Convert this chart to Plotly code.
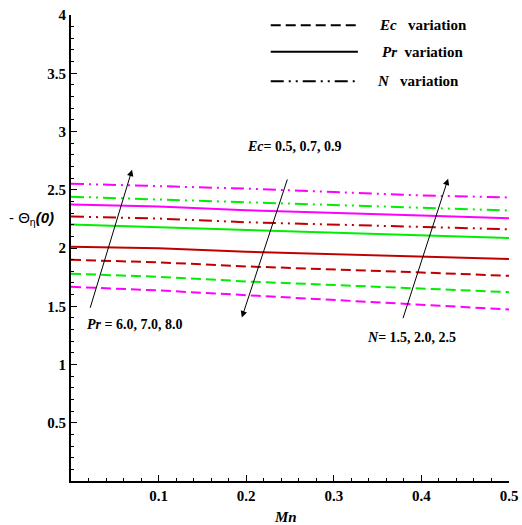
import plotly.graph_objects as go

# Magnetic number Mn and the wall heat-flux -Theta_eta(0) for each parameter sweep
mn = [0.0, 0.1, 0.2, 0.3, 0.4, 0.5]

# Ec variation (Ec = 0.5, 0.7, 0.9)
ec_05 = [1.899, 1.877, 1.842, 1.819, 1.790, 1.761]
ec_07 = [1.779, 1.753, 1.713, 1.681, 1.649, 1.621]
ec_09 = [1.667, 1.636, 1.595, 1.556, 1.512, 1.472]

# Pr variation (Pr = 6.0, 7.0, 8.0)
pr_60 = [2.011, 1.997, 1.968, 1.948, 1.925, 1.905]
pr_70 = [2.201, 2.178, 2.149, 2.126, 2.109, 2.086]
pr_80 = [2.374, 2.356, 2.325, 2.299, 2.279, 2.256]

# N variation (N = 1.5, 2.0, 2.5)
n_15 = [2.270, 2.253, 2.221, 2.201, 2.184, 2.161]
n_20 = [2.440, 2.417, 2.390, 2.368, 2.342, 2.322]
n_25 = [2.552, 2.534, 2.510, 2.480, 2.451, 2.434]

x_ticks = [0.1, 0.2, 0.3, 0.4, 0.5]
y_ticks = [0.5, 1, 1.5, 2, 2.5, 3, 3.5, 4]

RED = "#C00000"
GREEN = "#00EE00"
MAGENTA = "#FF00FF"
DASH = "10px,5px"
DASHDOT = "13px,5px,2px,5px,2px,5px"
SERIF = "Liberation Serif, Times New Roman, serif"

series = [
    ("Ec = 0.5", ec_05, RED, DASH),
    ("Ec = 0.7", ec_07, GREEN, DASH),
    ("Ec = 0.9", ec_09, MAGENTA, DASH),
    ("Pr = 6.0", pr_60, RED, "solid"),
    ("Pr = 7.0", pr_70, GREEN, "solid"),
    ("Pr = 8.0", pr_80, MAGENTA, "solid"),
    ("N = 1.5", n_15, RED, DASHDOT),
    ("N = 2.0", n_20, GREEN, DASHDOT),
    ("N = 2.5", n_25, MAGENTA, DASHDOT),
]

fig = go.Figure()
for name, ys, color, dash in series:
    fig.add_trace(go.Scatter(x=mn, y=ys, mode="lines", name=name,
                             line=dict(color=color, width=2, dash=dash),
                             showlegend=False))

# Hand-drawn key in the upper right corner
key = [
    (DASH, 0.978, "<b><i>Ec</i>&nbsp;&nbsp;&nbsp;variation</b>", 0.699),
    ("solid", 0.921, "<b><i>Pr</i>&nbsp;&nbsp;variation</b>", 0.705),
    (DASHDOT, 0.858, "<b><i>N</i>&nbsp;&nbsp;&nbsp;variation</b>", 0.695),
]
shapes = []
annotations = []
for dash, yk, label, xt in key:
    shapes.append(dict(type="line", xref="paper", yref="paper",
                       x0=0.456, x1=0.655, y0=yk, y1=yk,
                       line=dict(color="black", width=2, dash=dash)))
    annotations.append(dict(xref="paper", yref="paper", x=xt, y=yk,
                            text=label, showarrow=False, xanchor="left",
                            yanchor="middle",
                            font=dict(family=SERIF, size=15, color="black")))

# Trend arrows: (head x, head y, tail x, tail y)
arrows = [
    (0.0697, 2.672, 0.0214, 1.474),
    (0.195, 1.403, 0.2475, 2.601),
    (0.4305, 2.595, 0.3785, 1.385),
]
for hx, hy, tx, ty in arrows:
    annotations.append(dict(x=hx, y=hy, ax=tx, ay=ty, xref="x", yref="y",
                            axref="x", ayref="y", text="", showarrow=True,
                            arrowhead=2, arrowsize=1.3, arrowwidth=1,
                            arrowcolor="black"))

labels = [
    (0.0155, 1.345, "<b><i>Pr</i> = 6.0, 7.0, 8.0</b>"),
    (0.199, 2.87, "<b><i>Ec</i>= 0.5, 0.7, 0.9</b>"),
    (0.336, 1.232, "<b><i>N</i>= 1.5, 2.0, 2.5</b>"),
]
for lx, ly, txt in labels:
    annotations.append(dict(x=lx, y=ly, xref="x", yref="y", text=txt,
                            showarrow=False, xanchor="left", yanchor="middle",
                            font=dict(family=SERIF, size=14, color="black")))

# Axis titles
annotations.append(dict(xref="paper", yref="paper", x=-0.145, y=0.563,
                        text="- \u0398<sub>\u03b7</sub><b><i>(0)</i></b>",
                        showarrow=False, xanchor="left", yanchor="middle",
                        font=dict(family="Liberation Sans", size=15, color="black")))
annotations.append(dict(xref="paper", yref="paper", x=0.49, y=-0.077,
                        text="<b><i>Mn</i></b>", showarrow=False,
                        xanchor="center", yanchor="middle",
                        font=dict(family=SERIF, size=15, color="black")))

axis_common = dict(showgrid=False, zeroline=False, showline=True,
                   linecolor="black", linewidth=2, ticks="inside",
                   ticklen=6, tickwidth=1, tickcolor="black",
                   mirror=False, automargin=False)

fig.update_layout(
    width=522, height=525,
    margin=dict(l=71, r=13, t=15, b=44, autoexpand=False),
    plot_bgcolor="white", paper_bgcolor="white",
    font=dict(family=SERIF, size=15, color="black"),
    xaxis=dict(range=[0, 0.5], tickvals=x_ticks,
               ticktext=[f"<b>{v:g}</b>" for v in x_ticks],
               minor=dict(dtick=0.02, ticks="inside", ticklen=3,
                          tickcolor="black", tickwidth=1),
               **axis_common),
    yaxis=dict(range=[0, 4], tickvals=y_ticks,
               ticktext=[f"<b>{v:g}</b>" for v in y_ticks],
               minor=dict(dtick=0.1, ticks="inside", ticklen=3,
                          tickcolor="black", tickwidth=1),
               **axis_common),
    shapes=shapes,
    annotations=annotations,
    showlegend=False,
)
fig.update_xaxes(tickfont=dict(family=SERIF, size=15, color="black"))
fig.update_yaxes(tickfont=dict(family=SERIF, size=15, color="black"))

fig.write_html("out.html")
